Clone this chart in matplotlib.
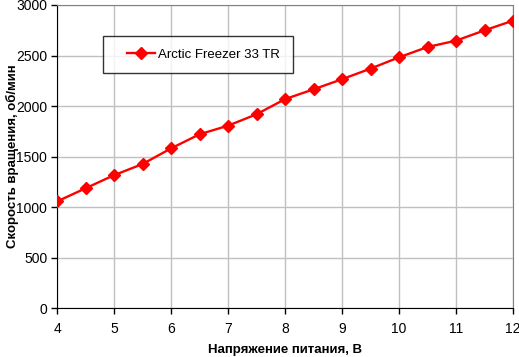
import matplotlib
matplotlib.use('Agg')
from matplotlib import pyplot as plt
from matplotlib.legend_handler import HandlerLine2D

# Data
voltage = [4, 4.5, 5, 5.5, 6, 6.5, 7, 7.5, 8, 8.5, 9, 9.5, 10, 10.5, 11, 11.5, 12]
rpm = [1055, 1185, 1315, 1425, 1580, 1720, 1805, 1918, 2068, 2165, 2265, 2370, 2482, 2584, 2647, 2749, 2845]
series_name = 'Arctic Freezer 33 TR'
x_ticks = [4, 5, 6, 7, 8, 9, 10, 11, 12]
y_ticks = [0, 500, 1000, 1500, 2000, 2500, 3000]

plt.rcParams['font.family'] = ['Liberation Sans', 'DejaVu Sans']

W, H = 519, 357
left, right, top, bottom = 57, 513, 5, 308  # plot area in pixels
figure = plt.figure(figsize=(W / 100, H / 100), dpi=100)
axes1 = figure.add_axes([left / W, 1 - bottom / H, (right - left) / W, (bottom - top) / H])

line, = axes1.plot(voltage, rpm, color='#ff0000', linewidth=1.7, marker='D',
                   markersize=6.5, markeredgecolor='#ff0000', label=series_name, zorder=3)

axes1.set_xlim(4, 12)
axes1.set_ylim(0, 3000)
axes1.set_xticks(x_ticks)
axes1.set_yticks(y_ticks)
axes1.tick_params(direction='out', length=4, width=1, labelsize=10, color='black')
axes1.tick_params(axis='x', pad=6)
axes1.tick_params(axis='y', pad=3)
axes1.grid(True, color='#c0c0c0', linewidth=1)
axes1.set_axisbelow(True)

for side in ['top', 'right']:
    axes1.spines[side].set_color('#808080')
for side in ['left', 'bottom']:
    axes1.spines[side].set_color('black')

axes1.set_xlabel('Напряжение питания, В', fontsize=9.5, fontweight='bold', va='center')
axes1.set_ylabel('Скорость вращения, об/мин', fontsize=9.5, fontweight='bold', va='center')
axes1.xaxis.set_label_coords(0.5, (bottom - 350) / (bottom - top))
axes1.yaxis.set_label_coords((12 - left) / (right - left), 0.5)

legend = figure.legend(handles=[line], loc='upper left', bbox_to_anchor=(103 / W, 1 - 36 / H),
                       fontsize=9.5, frameon=True, fancybox=False, borderaxespad=0,
                       handlelength=3.0, borderpad=0.95, handletextpad=0.25,
                       handler_map={line: HandlerLine2D(xpad=0.87)})
legend.get_frame().set_edgecolor('black')
legend.get_frame().set_linewidth(1)

plt.savefig('out.png', dpi=100)
plt.close()
